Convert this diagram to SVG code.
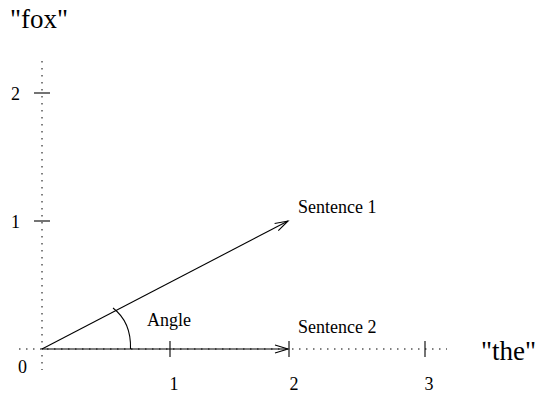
<svg xmlns="http://www.w3.org/2000/svg" width="538" height="395" viewBox="0 0 538 395">
<defs>
<style>
.dot{stroke:#000;stroke-width:1;stroke-dasharray:1.5 5.5;fill:none}
.ln{stroke:#000;stroke-width:1.1;fill:none}
.t{font-family:"Liberation Serif","Times New Roman",serif;fill:#000}
.s{font-size:18px}
.b{font-size:27px}
</style>
<marker id="ah" markerWidth="16" markerHeight="10" refX="14" refY="5" orient="auto" markerUnits="userSpaceOnUse">
<path d="M1,1 L14,5 L1,9" fill="none" stroke="#000" stroke-width="1.1"/>
</marker>
</defs>
<g id="axes">
<line class="dot" x1="19" y1="349" x2="447" y2="349"/>
<line class="dot" x1="42" y1="61" x2="42" y2="370"/>
<line class="ln" x1="34" y1="93" x2="50" y2="93"/>
<line class="ln" x1="34" y1="221" x2="50" y2="221"/>
<line class="ln" x1="170" y1="341" x2="170" y2="357"/>
<line class="ln" x1="289" y1="341" x2="289" y2="357"/>
<line class="ln" x1="425" y1="341" x2="425" y2="357"/>
<text class="t b" x="10" y="28">"fox"</text>
<text class="t b" x="481" y="360">"the"</text>
<text class="t s" x="11" y="100">2</text>
<text class="t s" x="11" y="228">1</text>
<text class="t s" x="18" y="373">0</text>
<text class="t s" x="174" y="390" text-anchor="middle">1</text>
<text class="t s" x="294" y="390" text-anchor="middle">2</text>
<text class="t s" x="429" y="390" text-anchor="middle">3</text>
</g>
<g id="connectors">
<line id="sentence1" class="ln" x1="42" y1="349" x2="288" y2="221" marker-end="url(#ah)"/>
<line id="sentence2" class="ln" x1="42" y1="349" x2="288" y2="349" marker-end="url(#ah)"/>
<path id="angle-arc" class="ln" d="M130.5,349 C131,333 126,318 113,308"/>
</g>
<g id="labels">
<text class="t s" x="298" y="213">Sentence 1</text>
<text class="t s" x="298" y="333">Sentence 2</text>
<text class="t s" x="147" y="326">Angle</text>
</g>
</svg>
